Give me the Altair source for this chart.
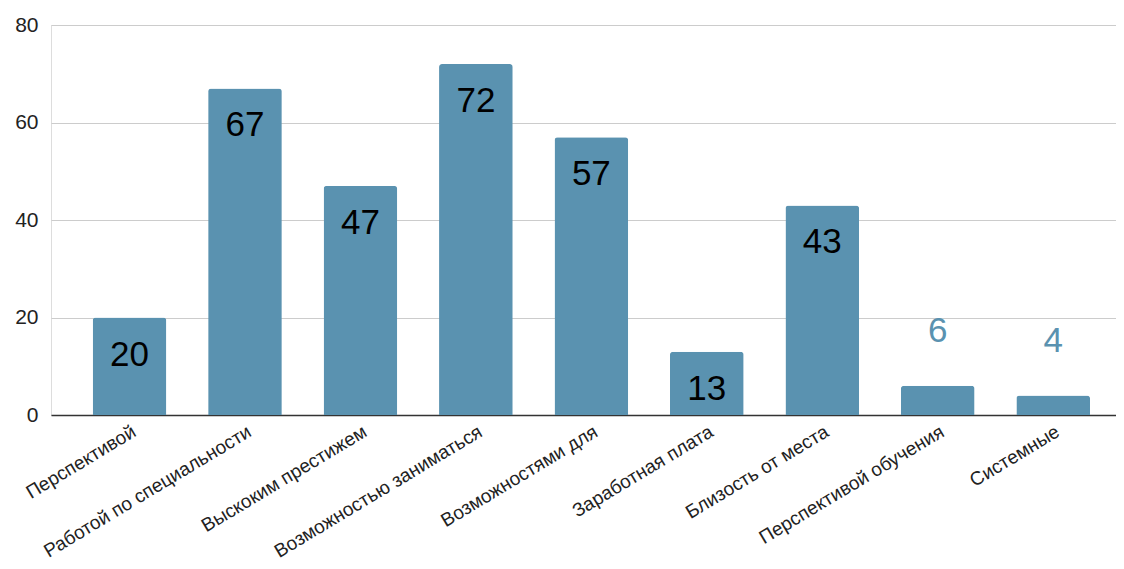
import altair as alt
import pandas as pd

categories = ["Перспективой", "Работой по специальности", "Выскоким престижем",
              "Возможностью заниматься", "Возможностями для", "Заработная плата",
              "Близость от места", "Перспективой обучения", "Системные"]
values = [20, 67, 47, 72, 57, 13, 43, 6, 4]
y_ticks = [0, 20, 40, 60, 80]

df = pd.DataFrame({"cat": categories, "val": values})

BAR = "#5a92b0"
FONT = "Liberation Sans"

x = alt.X("cat:N", sort=categories, title=None,
          scale=alt.Scale(paddingInner=0.362, paddingOuter=0.293, align=0.616),
          axis=alt.Axis(labelAngle=-31, labelAlign="right", labelBaseline="top",
                        labelPadding=7, labelFontSize=19, labelColor="#222222",
                        labelFont=FONT, labelLimit=0, labelOverlap=False,
                        ticks=False, domainColor="#333333", domainWidth=1.5,
                        grid=False))
y = alt.Y("val:Q", title=None,
          scale=alt.Scale(domain=[0, 80], nice=False),
          axis=alt.Axis(values=y_ticks, labelFontSize=21, labelColor="#222222",
                        labelFont=FONT, labelPadding=13, ticks=False, domain=False,
                        gridColor="#cccccc", gridWidth=1.2))

base = alt.Chart(df)

bars = base.mark_bar(color=BAR, cornerRadiusTopLeft=3, cornerRadiusTopRight=3).encode(x=x, y=y)

inside = base.transform_filter(alt.datum.val >= 10).mark_text(
    baseline="alphabetic", align="center", dy=48, fontSize=35, font=FONT, color="#000000"
).encode(x=alt.X("cat:N", sort=categories), y=alt.Y("val:Q"), text="val:Q")

outside = base.transform_filter(alt.datum.val < 10).mark_text(
    baseline="alphabetic", align="center", dy=-44, fontSize=35, font=FONT, color=BAR
).encode(x=alt.X("cat:N", sort=categories), y=alt.Y("val:Q"), text="val:Q")

chart = alt.layer(bars, inside, outside).properties(
    width=1065, height=390,
    autosize=alt.AutoSizeParams(type="none"),
    padding={"left": 43, "top": 17, "right": 0, "bottom": 150},
).configure_view(stroke=None).configure(background="white")

chart.save("out.html", embed_options={"renderer": "svg", "actions": False})
